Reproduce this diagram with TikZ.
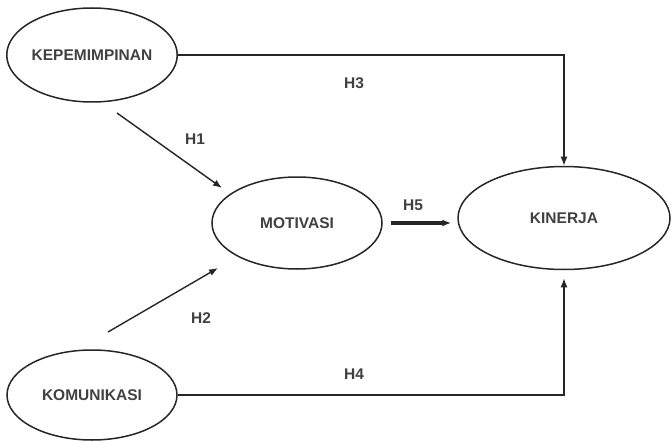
\documentclass[tikz,border=0pt]{standalone}
\usepackage{fontspec}
\setmainfont{Liberation Sans}
\usepackage{tikz}
\usetikzlibrary{shapes,arrows.meta,positioning}
\tikzset{>={Latex[length=9pt,width=7pt]}}

\begin{document}
\begin{tikzpicture}[x=1pt,y=-1pt,
                          var/.style={ellipse, draw, line width=1.5pt, inner sep=0pt, black!85,
                                      font=\fontsize{15.5}{18}\selectfont\bfseries, text=black!75},
                          link/.style={line width=1.4pt, black!85, ->},
                          boldlink/.style={line width=3.8pt, black!85, ->},
                          hyp/.style={text=black!75, font=\fontsize{15.5}{18}\selectfont\bfseries},
                         ]

\useasboundingbox (0,0) rectangle (672,441);

\node[var, minimum width=168pt, minimum height=94pt] (kep) at (92,55) {KEPEMIMPINAN};
\node[var, minimum width=170pt, minimum height=92pt] (mot) at (297,223) {MOTIVASI};
\node[var, minimum width=212pt, minimum height=103pt] (kin) at (564,218) {KINERJA};
\node[var, minimum width=170pt, minimum height=90pt] (kom) at (92,395) {KOMUNIKASI};

\coordinate (h1a) at (117,113);
\coordinate (h1b) at (222,188);
\coordinate (h2a) at (108,332);
\coordinate (h2b) at (218,268);

\draw[link] (kep.east) -| (kin.north);
\draw[link, shorten >=8pt] (kom.east) -| (kin.south);
\draw[link] (h1a) -- (h1b);
\draw[link] (h2a) -- (h2b);
\draw[boldlink, shorten <=8pt, shorten >=6pt] (mot.east) -- (mot.east -| kin.west);

\node[hyp] (h1) at (195,139) {H1};
\node[hyp] (h2) at (201,318) {H2};
\node[hyp] (h3) at (354,83) {H3};
\node[hyp] (h4) at (354,374) {H4};
\node[hyp] (h5) at (413,205) {H5};

\end{tikzpicture}
\end{document}
